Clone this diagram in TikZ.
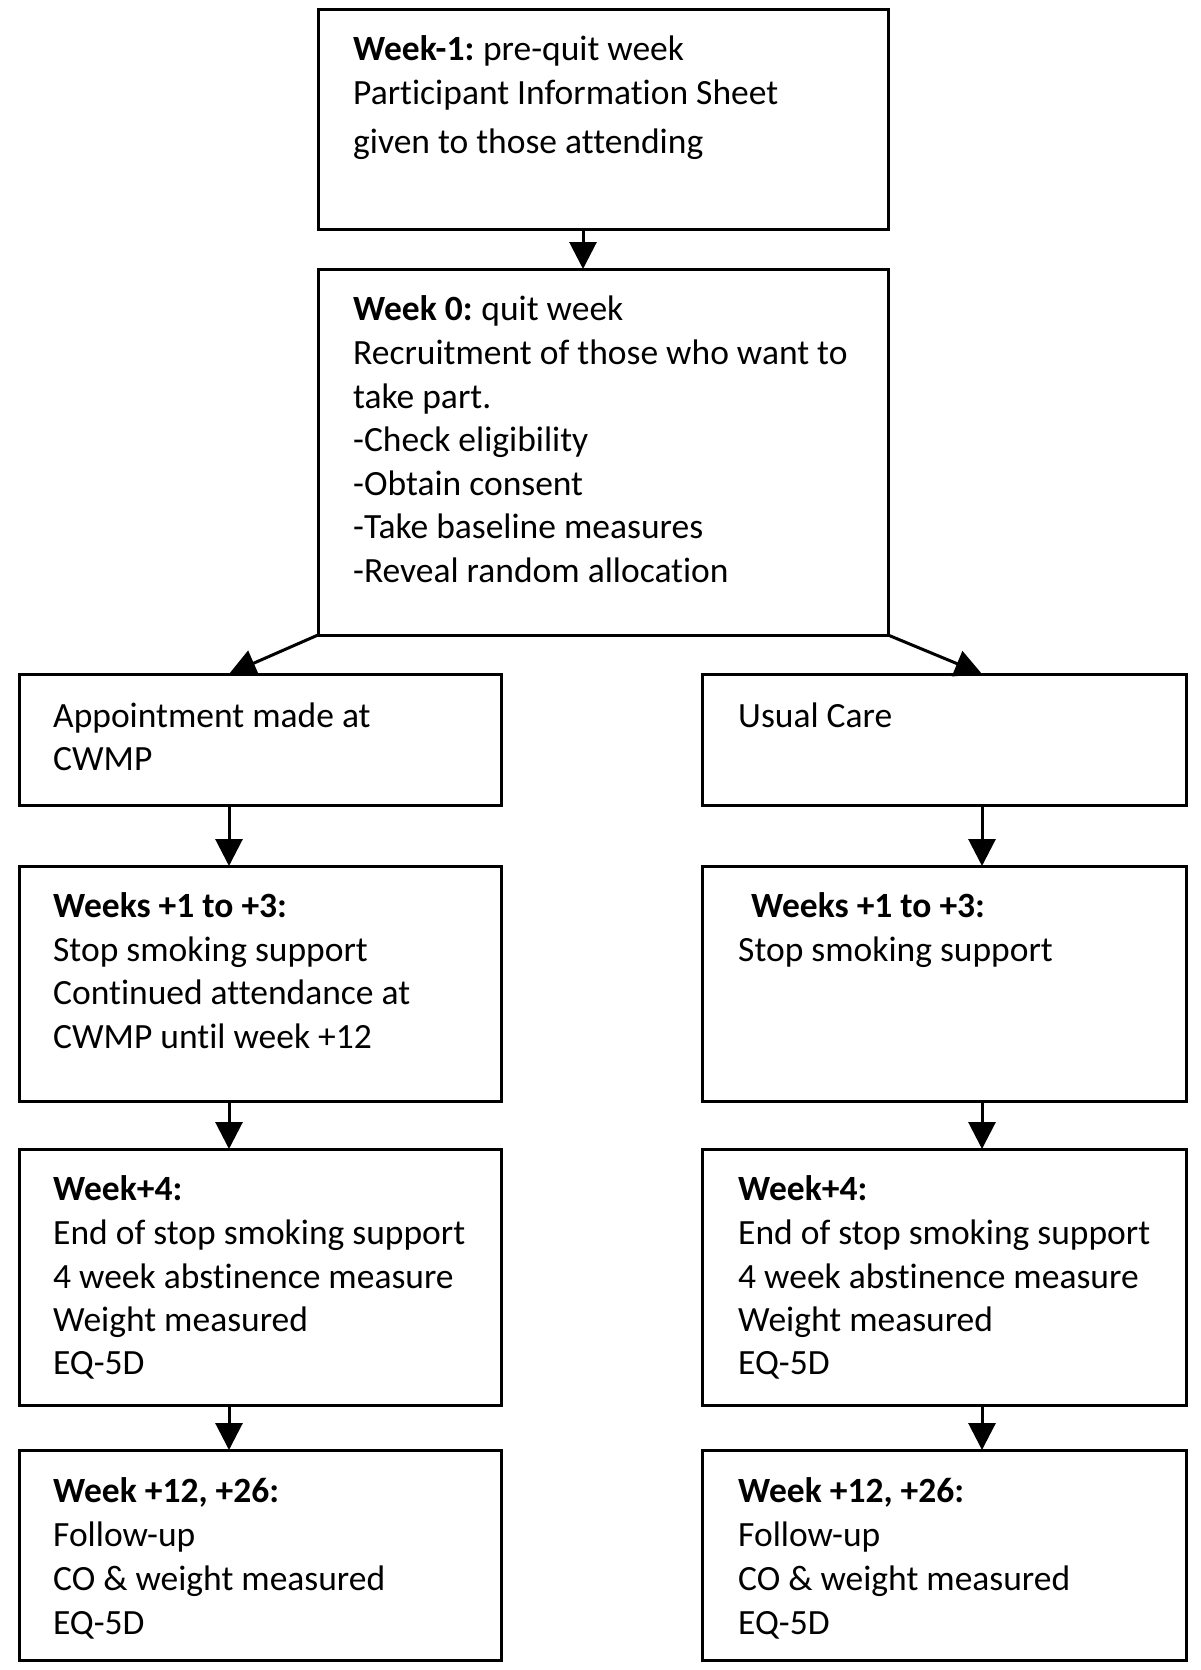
\documentclass[tikz,border=0pt]{standalone}
\usepackage{fontspec}
\setmainfont{Carlito}[Ligatures={NoCommon,NoContextual}]
\usetikzlibrary{arrows.meta}
\newcommand\mybox[5]{\node[boxstyle, minimum width=#4-#2, minimum height=#5-#3] (#1) at (#2,#3) {};}
\newcommand\myline[4]{\node[txt] (#1) at (#2,#3) {#4};}
\begin{document}
\begin{tikzpicture}[x=1pt,y=-1pt,
  boxstyle/.style={draw=black, line width=3pt, rectangle, anchor=north west, inner sep=0pt, outer sep=0pt},
  txt/.style={anchor=base west, inner sep=0pt, font=\fontsize{35.5}{43.6}\selectfont},
  arr/.style={line width=3pt, -{Triangle[length=27pt,width=27pt]}}]
\useasboundingbox[fill=white] (0,0) rectangle (1200,1670);
% boxes
\mybox{top}{318}{10}{888}{229}
\mybox{wk0}{318}{269}{888}{635}
\mybox{la}{19}{674}{501}{805}
\mybox{ra}{702}{674}{1186}{805}
\mybox{lb}{19}{866}{501}{1101}
\mybox{rb}{702}{866}{1186}{1101}
\mybox{lc}{19}{1149}{501}{1405}
\mybox{rc}{702}{1149}{1186}{1405}
\mybox{ld}{19}{1450}{501}{1660}
\mybox{rd}{702}{1450}{1186}{1660}
% text top
\myline{t1}{353}{60}{\textbf{Week-1:}\hspace{-2pt} pre-quit week}
\myline{t2}{353}{104}{Participant Information Sheet}
\myline{t3}{353}{153}{given to those attending}
% week 0
\myline{w1}{353}{320}{\textbf{Week 0:}\hspace{-2pt} quit week}
\myline{w2}{353}{364}{Recruitment of those who want to}
\myline{w3}{353}{408}{take part.}
\myline{w4}{353}{451}{-Check eligibility}
\myline{w5}{353}{495}{-Obtain consent}
\myline{w6}{353}{538}{-Take baseline measures}
\myline{w7}{353}{582}{-Reveal random allocation}
% row A
\myline{la1}{53}{727}{Appointment made at}
\myline{la2}{53}{770}{CWMP}
\myline{ra1}{738}{727}{Usual Care}
% row B
\myline{lb1}{53}{917}{\textbf{Weeks +1 to +3:}}
\myline{lb2}{53}{961}{Stop smoking support}
\myline{lb3}{53}{1004}{Continued attendance at}
\myline{lb4}{53}{1048}{CWMP until week +12}
\myline{rb1}{751}{917}{\textbf{Weeks +1 to +3:}}
\myline{rb2}{738}{961}{Stop smoking support}
% row C
\myline{lc1}{53}{1200}{\textbf{Week+4:}}
\myline{lc2}{53}{1244}{End of stop smoking support}
\myline{lc3}{53}{1288}{4 week abstinence measure}
\myline{lc4}{53}{1331}{Weight measured}
\myline{lc5}{53}{1374}{EQ-5D}
\myline{rc1}{738}{1200}{\textbf{Week+4:}}
\myline{rc2}{738}{1244}{End of stop smoking support}
\myline{rc3}{738}{1288}{4 week abstinence measure}
\myline{rc4}{738}{1331}{Weight measured}
\myline{rc5}{738}{1374}{EQ-5D}
% row D
\myline{ld1}{53}{1502}{\textbf{Week +12, +26:}}
\myline{ld2}{53}{1546}{Follow-up}
\myline{ld3}{53}{1590}{CO \& weight measured}
\myline{ld4}{53}{1634}{EQ-5D}
\myline{rd1}{738}{1502}{\textbf{Week +12, +26:}}
\myline{rd2}{738}{1546}{Follow-up}
\myline{rd3}{738}{1590}{CO \& weight measured}
\myline{rd4}{738}{1634}{EQ-5D}
% arrow columns
\coordinate (cx) at (583,0);
\coordinate (lx) at (229,0);
\coordinate (rx) at (982,0);
\draw[arr] (top.south -| cx) -- (wk0.north -| cx);
\draw[arr] (wk0.south west) -- (la.north -| lx);
\draw[arr] (wk0.south east) -- (ra.north -| rx);
\draw[arr] (la.south -| lx) -- (lb.north -| lx);
\draw[arr] (lb.south -| lx) -- (lc.north -| lx);
\draw[arr] (lc.south -| lx) -- (ld.north -| lx);
\draw[arr] (ra.south -| rx) -- (rb.north -| rx);
\draw[arr] (rb.south -| rx) -- (rc.north -| rx);
\draw[arr] (rc.south -| rx) -- (rd.north -| rx);
\end{tikzpicture}
\end{document}
